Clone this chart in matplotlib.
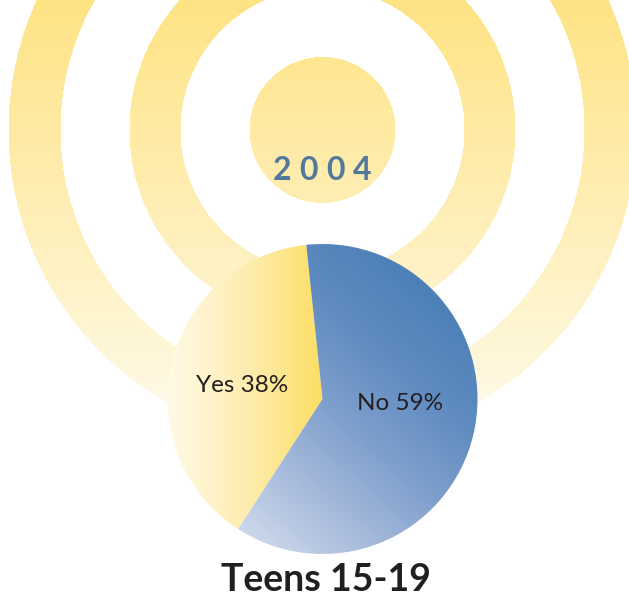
import numpy as np
import matplotlib
matplotlib.use("Agg")
import matplotlib.pyplot as plt
from matplotlib.colors import LinearSegmentedColormap

# ---- data ----
labels = ["Yes", "No"]
values = [38, 59]
year = "2004"
title = "Teens 15-19"

W, H = 629, 596
fig = plt.figure(figsize=(W / 100, H / 100), dpi=100)
ax = fig.add_axes([0, 0, 1, 1])
ax.set_xlim(0, W)
ax.set_ylim(0, H)
ax.set_aspect("equal")
ax.axis("off")

def Y(py):
    return H - py

# ---- background concentric rings with vertical fade ----
cx, cy = 322.5, 130.0
xs = np.arange(W) + 0.5
ys = np.arange(H) + 0.5
XX, YY = np.meshgrid(xs, ys)
R = np.hypot(XX - cx, YY - cy)
mask = (R <= 73) | ((R >= 142) & (R <= 193)) | ((R >= 262) & (R <= 314))
top = np.array([254, 227, 132]) / 255
bot = np.array([254, 250, 232]) / 255
t = np.clip(YY / 420.0, 0, 1)[..., None]
rgb = top * (1 - t) + bot * t
alpha = np.clip((460 - YY) / 80.0, 0, 1)
rgba = np.dstack([rgb, (mask * alpha)])
ax.imshow(rgba, extent=(0, W, 0, H), origin="upper", interpolation="bilinear", zorder=0)

# ---- year label (letter-spaced) ----
pitch = 26.7
for i, ch in enumerate(year):
    x = 322 + (i - (len(year) - 1) / 2) * pitch
    ax.text(x, Y(171), ch, ha="center", va="center", fontsize=23,
            fontweight="bold", color="#52799C", family="Lato", zorder=5)

# ---- pie ----
pc = (322.5, Y(399))
pr = 155
wedges, _ = ax.pie(values, center=pc, radius=pr, startangle=96, counterclock=True,
                   colors=["none", "none"], wedgeprops=dict(linewidth=0))
ax.set_xlim(0, W)
ax.set_ylim(0, H)

ext = (pc[0] - pr, pc[0] + pr, pc[1] - pr, pc[1] + pr)

# gradient for Yes (horizontal)
cmap_yes = LinearSegmentedColormap.from_list("y", ["#FFFAE6", "#FEEDB0", "#FDDD62"])
g = np.linspace(0, 1, 256)[None, :]
im = ax.imshow(g, cmap=cmap_yes, extent=(pc[0] - pr, pc[0] + 2, pc[1] - pr, pc[1] + pr),
               aspect="auto", zorder=2, interpolation="bilinear")
im.set_clip_path(wedges[0])

# gradient for No (diagonal, light bottom-left -> dark top-right)
cmap_no = LinearSegmentedColormap.from_list(
    "n", ["#CDD8EB", "#A6BADB", "#7E9FCC", "#5F8BC0", "#4D80B8"])
n = 300
u = np.linspace(-1, 1, n)
gx, gy = np.meshgrid(u, u[::-1])  # row 0 = top
d = (gx * 0.66 + gy * 0.75)
d = np.clip((d + 1.0) / 2.0, 0, 1)
im2 = ax.imshow(d, cmap=cmap_no, vmin=0, vmax=1, extent=ext,
                aspect="auto", origin="upper", zorder=2, interpolation="bilinear")
im2.set_clip_path(wedges[1])
ax.set_xlim(0, W)
ax.set_ylim(0, H)

# slice labels
ax.text(242, Y(385), f"{labels[0]} {values[0]}%", ha="center", va="center",
        fontsize=17.5, color="#231F20", family="Lato", zorder=6)
ax.text(400, Y(403), f"{labels[1]} {values[1]}%", ha="center", va="center",
        fontsize=17.5, color="#231F20", family="Lato", zorder=6)

# title
ax.text(326, Y(580), title, ha="center", va="center", fontsize=27,
        fontweight="bold", color="#231F20", family="Lato", zorder=6)

fig.savefig("out.png", dpi=100)
